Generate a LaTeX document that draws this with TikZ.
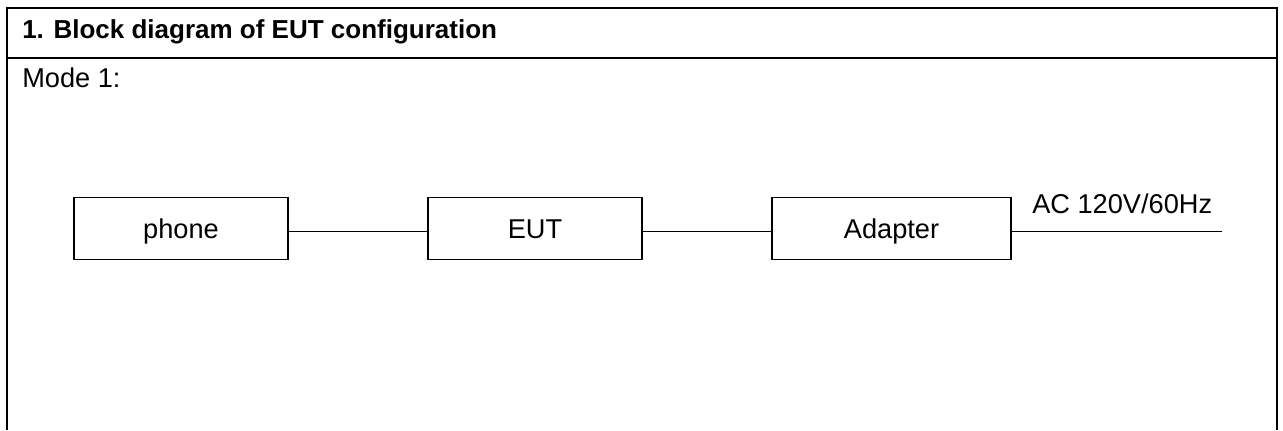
\documentclass[tikz,border=0pt]{standalone}
\usepackage{fontspec}
\setmainfont{Liberation Sans}
\begin{document}
\begin{tikzpicture}[x=0.75pt,y=-0.75pt,
        unit/.style={draw,line width=1.1pt,minimum width=160.5pt,minimum height=46.5pt,inner sep=0pt,text height=14.6pt,text depth=0pt,font=\fontsize{20.4}{24}\selectfont},
        lbl/.style={inner sep=0pt,anchor=base west,font=\fontsize{20.4}{24}\selectfont}]
        \useasboundingbox (0,0) rectangle (1283,430);
        \draw[line width=1.5pt] (6.5,430) -- (6.5,7.5) -- (1277,7.5) -- (1277,430);
        \draw[line width=1.5pt] (6.5,57.5) -- (1277,57.5);
        \node[lbl,font=\fontsize{19.5}{24}\selectfont\bfseries] at (22,38.5) (title) {1. Block diagram of EUT configuration};
        \node[lbl] at (22,87) (mode) {Mode 1:};
        \node[unit] at (181,228.5) (phone) {phone};
        \node[unit] at (535,228.5) (eut) {EUT};
        \node[unit,minimum width=179.25pt] at (891.5,228.5) (adapter) {Adapter};
        \coordinate (mains) at (1222,231.5);
        \node[lbl] at (1032,213) (ac) {AC 120V/60Hz};
        \draw[line width=1pt] ([yshift=-2.25pt]phone.east) -- ([yshift=-2.25pt]eut.west);
        \draw[line width=1pt] ([yshift=-2.25pt]eut.east) -- ([yshift=-2.25pt]adapter.west);
        \draw[line width=1pt] ([yshift=-2.25pt]adapter.east) -- (mains);
    \end{tikzpicture}
\end{document}
